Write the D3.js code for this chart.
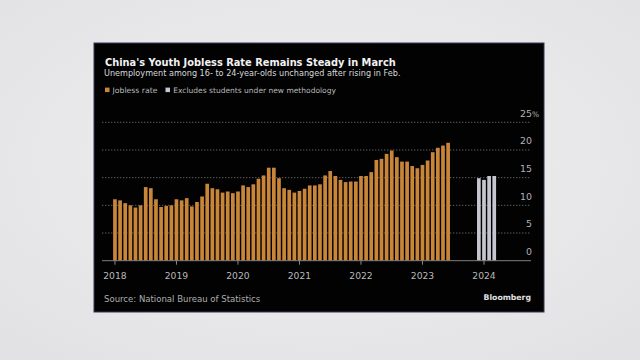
<!DOCTYPE html>
<html>
<head>
<meta charset="utf-8">
<script src="https://cdn.jsdelivr.net/npm/d3@7"></script>
<style>
  html, body { margin: 0; padding: 0; background: #ebebec; }
  svg { display: block; }
  text { font-family: "DejaVu Sans", Verdana, sans-serif; }
</style>
</head>
<body>
<div id="chart"></div>
<script>
// Youth (16-24) jobless rate, %, by month
const rate2018 = [11.1, 10.9, 10.4, 10.0, 9.6, 10.0, 13.3, 13.1, 11.1, 9.7, 9.9, 10.0];
const rate2019 = [11.1, 10.9, 11.3, 9.8, 10.6, 11.6, 13.9, 13.1, 12.9, 12.3, 12.5, 12.2];
const rate2020 = [12.5, 13.6, 13.3, 13.8, 14.8, 15.4, 16.8, 16.8, 14.9, 13.1, 12.8, 12.3];
const rate2021 = [12.6, 13.0, 13.6, 13.6, 13.8, 15.4, 16.2, 15.3, 14.6, 14.2, 14.3, 14.3];
const rate2022 = [15.3, 15.3, 16.0, 18.2, 18.4, 19.3, 19.9, 18.7, 17.9, 17.9, 17.1, 16.7];
const rate2023 = [17.3, 18.1, 19.6, 20.4, 20.8, 21.3];

// New methodology, excluding students
const newMethodMonths = ["2023-12", "2024-01", "2024-02", "2024-03"];
const newMethodRate = [14.9, 14.6, 15.3, 15.3];

const yearTicks = ["2018", "2019", "2020", "2021", "2022", "2023", "2024"];
const yTicks = [0, 5, 10, 15, 20, 25];

const legendLabels = ["Jobless rate", "Excludes students under new methodology"];
const titleText = "China's Youth Jobless Rate Remains Steady in March";
const subtitleText = "Unemployment among 16- to 24-year-olds unchanged after rising in Feb.";
const sourceText = "Source: National Bureau of Statistics";

const width = 640, height = 360;
const orange = "#c98639", grey = "#c6c6d0";

const fmt = d3.timeFormat("%Y-%m");
const allMonths = d3.timeMonth.range(new Date(2018, 0, 1), new Date(2024, 3, 1)).map(fmt);

// Flatten the old series into month/value pairs
const oldSeries = [rate2018, rate2019, rate2020, rate2021, rate2022, rate2023]
    .flat()
    .map((v, i) => ({ month: allMonths[i], value: v }));
const newSeries = newMethodMonths.map((m, i) => ({ month: m, value: newMethodRate[i] }));

const svg = d3.select("#chart").append("svg")
    .attr("width", width)
    .attr("height", height);

// Light backdrop of the photo
const defs = svg.append("defs");
const bg = defs.append("radialGradient").attr("id", "bg").attr("cx", "50%").attr("cy", "45%").attr("r", "75%");
bg.append("stop").attr("offset", "0%").attr("stop-color", "#f0f0f1");
bg.append("stop").attr("offset", "100%").attr("stop-color", "#e1e1e3");
svg.append("rect").attr("width", width).attr("height", height).attr("fill", "url(#bg)");

// The black card
svg.append("rect")
    .attr("x", 94).attr("y", 43)
    .attr("width", 450).attr("height", 269)
    .attr("fill", "#020203")
    .attr("stroke", "#3b3556")
    .attr("stroke-width", 1);

// Scales
const x = d3.scaleBand()
    .domain(allMonths)
    .range([112.4, 496.8])
    .paddingInner(0.28)
    .paddingOuter(0.14);

const y = d3.scaleLinear()
    .domain([0, 25])
    .range([260.7, 122.3]);

const plotLeft = 102, plotRight = 531;

// Helper: shrink/grow a text's font so it spans a given width
function fitWidth(sel, target) {
    const node = sel.node();
    const size = parseFloat(sel.attr("font-size"));
    const w = node.getComputedTextLength();
    if (w > 0) sel.attr("font-size", (size * target / w).toFixed(2));
}

// Title block
svg.append("text")
    .attr("x", 105).attr("y", 65.6)
    .attr("font-size", 10).attr("font-weight", "bold")
    .attr("fill", "#f2f2f2")
    .text(titleText)
    .call(fitWidth, 291);

svg.append("text")
    .attr("x", 104).attr("y", 76.4)
    .attr("font-size", 9.5)
    .attr("fill", "#d8d8d8")
    .text(subtitleText)
    .call(fitWidth, 297);

// Legend
const legend = svg.append("g");
legend.append("rect").attr("x", 105).attr("y", 87.6).attr("width", 4.5).attr("height", 4.5).attr("fill", orange);
legend.append("text").attr("x", 112.5).attr("y", 92.6).attr("font-size", 8.5).attr("fill", "#b9b9b9")
    .text(legendLabels[0]).call(fitWidth, 45);
legend.append("rect").attr("x", 165.5).attr("y", 87.6).attr("width", 4.5).attr("height", 4.5).attr("fill", grey);
legend.append("text").attr("x", 173.3).attr("y", 92.6).attr("font-size", 8.5).attr("fill", "#b9b9b9")
    .text(legendLabels[1]).call(fitWidth, 163);

// Dotted gridlines
svg.append("g")
    .selectAll("line")
    .data(yTicks.filter(d => d > 0))
    .enter()
    .append("line")
    .attr("x1", plotLeft).attr("x2", plotRight)
    .attr("y1", d => y(d)).attr("y2", d => y(d))
    .attr("stroke", "#6a6a6a")
    .attr("stroke-width", 0.9)
    .attr("stroke-dasharray", "1.4,1.6");

// Y labels, numbers right-aligned with "%" hanging on the top one
svg.append("g")
    .selectAll("text")
    .data(yTicks)
    .enter()
    .append("text")
    .attr("x", 532)
    .attr("y", d => y(d) - 5.6)
    .attr("text-anchor", "end")
    .attr("font-size", 9.4)
    .attr("fill", "#b3b3b3")
    .text(d => d);
svg.append("text")
    .attr("x", 532).attr("y", y(25) - 5.6)
    .attr("font-size", 7.5)
    .attr("fill", "#b3b3b3")
    .text("%");

// Bars
svg.append("g")
    .selectAll("rect")
    .data(oldSeries)
    .enter()
    .append("rect")
    .attr("x", d => x(d.month))
    .attr("y", d => y(d.value))
    .attr("width", x.bandwidth())
    .attr("height", d => y(0) - y(d.value))
    .attr("fill", orange);

svg.append("g")
    .selectAll("rect")
    .data(newSeries)
    .enter()
    .append("rect")
    .attr("x", d => x(d.month))
    .attr("y", d => y(d.value))
    .attr("width", x.bandwidth())
    .attr("height", d => y(0) - y(d.value))
    .attr("fill", grey);

// Baseline and year ticks
svg.append("line")
    .attr("x1", plotLeft).attr("x2", plotRight)
    .attr("y1", y(0)).attr("y2", y(0))
    .attr("stroke", "#80807a").attr("stroke-width", 1);

const tickX = yr => x(yr + "-01") + x.bandwidth() / 2;
const ticks = svg.append("g");
ticks.selectAll("line")
    .data(yearTicks)
    .enter()
    .append("line")
    .attr("x1", d => tickX(d)).attr("x2", d => tickX(d))
    .attr("y1", y(0)).attr("y2", y(0) + 4)
    .attr("stroke", "#8a8a86").attr("stroke-width", 1);
ticks.selectAll("text")
    .data(yearTicks)
    .enter()
    .append("text")
    .attr("x", d => tickX(d))
    .attr("y", 278.6)
    .attr("text-anchor", "middle")
    .attr("font-size", 9.2)
    .attr("fill", "#b9b9b9")
    .text(d => d);

// Footer
svg.append("text")
    .attr("x", 104).attr("y", 301.6)
    .attr("font-size", 9)
    .attr("fill", "#aeaeae")
    .text(sourceText)
    .call(fitWidth, 156.5);

svg.append("text")
    .attr("x", 531).attr("y", 299.6)
    .attr("text-anchor", "end")
    .attr("font-size", 9.5).attr("font-weight", "bold")
    .attr("fill", "#e0e0e0")
    .text("Bloomberg")
    .call(fitWidth, 47.5);
</script>
</body>
</html>
